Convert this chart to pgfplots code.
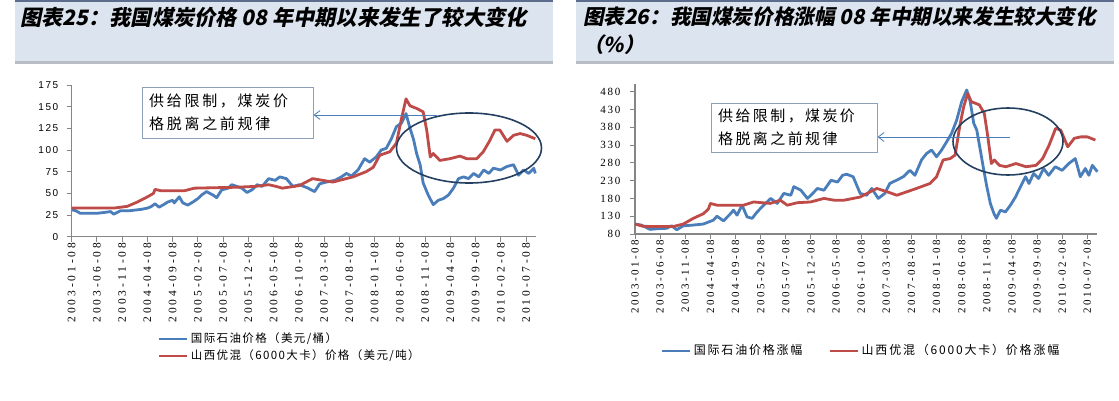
\documentclass[border=0pt]{standalone}
\usepackage{pgfplots}
\pgfplotsset{compat=1.18}
\usetikzlibrary{arrows.meta}
\usepackage{fontspec}
\setmainfont{Liberation Serif}
\newfontfamily\sansf{Liberation Sans}
\newfontfamily\cjk{Noto Sans CJK SC}
\newfontfamily\cjkt[FakeSlant=0.2]{Noto Sans CJK SC}

\definecolor{oilblue}{HTML}{4A7EBB}
\definecolor{coalred}{HTML}{BE4B48}
\definecolor{band}{HTML}{DCE4EF}
\definecolor{bandtop}{HTML}{5B6C8C}
\definecolor{shadow}{HTML}{B8BCC4}
\definecolor{axisgray}{HTML}{868686}
\definecolor{navy}{HTML}{243F60}
\definecolor{boxgray}{HTML}{8EA0B8}

\pgfplotsset{
  coalchart/.style={
    scale only axis, clip=false,
    xmin=0, xmax=92,
    axis x line*=bottom, axis y line*=left,
    axis line style={draw=axisgray, line width=1.2pt, -},
    tick style={draw=axisgray, line width=1pt},
    tick align=outside, major tick length=5pt,
    /pgf/number format/assume math mode=true,
    xtick={0,5,...,90},
    xticklabels={2003-01-08,2003-06-08,2003-11-08,2004-04-08,2004-09-08,2005-02-08,2005-07-08,2005-12-08,2006-05-08,2006-10-08,2007-03-08,2007-08-08,2008-01-08,2008-06-08,2008-11-08,2009-04-08,2009-09-08,2010-02-08,2010-07-08},
    legend image code/.code={\draw[#1, line width=2.2pt] (0pt,0pt) -- (28pt,0pt);},
  },
  oil/.style={oilblue, line width=2.8pt, line join=round},
  coal/.style={coalred, line width=2.8pt, line join=round},
}

\begin{document}
\begin{tikzpicture}[x=1pt, y=1pt]
\useasboundingbox (0,0) rectangle (1119,400);
\fill[white] (0,0) rectangle (1119,400);

% title bands
\fill[band] (15,339) rectangle (553,398.3);
\fill[bandtop] (15,398.3) rectangle (553,400);
\fill[shadow] (15,336.5) rectangle (553,339);
\fill[band] (576,339) rectangle (1114,398.3);
\fill[bandtop] (576,398.3) rectangle (1114,400);
\fill[shadow] (576,336.5) rectangle (1114,339);

\node[anchor=west, inner sep=0pt] at (20,383)
  {\cjkt\bfseries\fontsize{21.2}{24}\selectfont 图表25：我国煤炭价格 08 年中期以来发生了较大变化};
\node[anchor=west, inner sep=0pt] at (583,383)
  {\cjkt\bfseries\fontsize{20.6}{24}\selectfont 图表26：我国煤炭价格涨幅 08 年中期以来发生较大变化};
\node[anchor=west, inner sep=0pt] at (583,355)
  {\cjkt\bfseries\fontsize{20.6}{24}\selectfont （\%）};

% left chart: prices
\begin{axis}[coalchart,
  at={(71.7pt,163.3pt)}, anchor=south west,
  width=464.6pt, height=151.7pt,
  ymin=0, ymax=175, ytick={0,25,...,175},
  yticklabel style={font=\sansf\fontsize{10}{10}\selectfont\addfontfeature{LetterSpace=15}, xshift=-5pt},
  xticklabel style={rotate=90, anchor=east, inner sep=1pt,
    font=\fontsize{11.5}{11.5}\selectfont\addfontfeature{LetterSpace=25}},
  legend style={at={(0.1858,-0.620)}, anchor=north west, draw=none, fill=none,
    inner sep=0pt, row sep=0.5pt, cells={anchor=west},
    nodes={text height=9pt, text depth=2.5pt, inner sep=2.5pt},
    font=\cjk\fontsize{11.5}{13}\selectfont\addfontfeature{LetterSpace=12}},
]
\addplot[oil] coordinates {
(0,31) (0.8,30) (1.7,27) (3,27) (5,27) (6.5,28) (7.7,29) (8.3,26) (9.7,30)
(11.5,30) (13.7,31.5) (15,33) (15.7,34.6) (16.5,38) (17.3,34) (18.2,37) (19,40)
(20,42) (20.3,39) (21.3,46) (22,39) (23,36.5) (24,40) (25,44) (25.7,48) (26.7,52)
(28,48) (28.7,45) (29.7,54) (31,56) (31.7,60) (32.7,58) (33.7,56) (34.7,51)
(35.7,54) (36.7,60) (37.7,58) (39,67) (40.3,65) (41.2,69) (42.5,67) (43.8,58)
(45.1,60) (46.8,56) (48.1,52) (49.1,61) (50.4,63) (52.1,65) (53.4,69) (54.4,73)
(55.4,70) (56.7,77) (58,90) (59,86) (60.3,92) (61.3,100) (62.3,102) (63.3,113)
(64.3,127) (65.3,131) (66.2,142) (67,125) (67.7,112) (68.3,96) (69,83) (69.6,62)
(70.6,48) (71.6,37) (72.6,42) (73.6,44) (74.6,48) (75.6,56) (76.6,67) (77.6,69)
(78.6,67) (79.6,73) (80.6,69) (81.6,77) (82.6,73) (83.5,79) (84.9,77) (86.2,81)
(87.5,83) (88.5,71) (89.5,77) (90.5,73) (91.5,79) (91.8,73)
};
\addlegendentry{国际石油价格（美元/桶）}
\addplot[coal] coordinates {
(0,33) (8.3,33) (11,35) (13,40) (15,46) (16.2,50) (16.5,54.6) (17.7,53) (22.3,53)
(24.3,56) (32.3,57) (36.3,58) (39,60) (40.5,58) (41.7,56) (45.1,59) (47.7,67)
(49.7,65) (51.7,63) (55.7,69) (58.3,75) (59.7,80) (61,94) (63,98) (64.3,108)
(65.3,136) (66.2,159) (67,151) (68.3,148) (69.6,144) (70.3,123) (71,92) (71.6,96)
(72.9,88) (74.9,90) (76.9,93) (78.2,90) (80.2,90) (81.5,98) (82.8,111) (83.8,123)
(84.8,123) (86.2,110) (87.5,117) (88.8,119) (90.1,117) (91.8,113)
};
\addlegendentry{山西优混（6000大卡）价格（美元/吨）}
\end{axis}

% right chart: index
\begin{axis}[coalchart,
  at={(635pt,166pt)}, anchor=south west,
  width=462.4pt, height=150.5pt,
  ymin=80, ymax=503, ytick={80,130,...,480},
  yticklabel style={font=\fontsize{11}{11}\selectfont\addfontfeature{LetterSpace=16}, xshift=-6pt},
  xticklabel style={rotate=90, anchor=east, inner sep=1pt,
    font=\fontsize{11}{11}\selectfont\addfontfeature{LetterSpace=22}},
  legend columns=2,
  legend style={at={(0.0562,-0.777)}, anchor=west, draw=none, fill=none,
    inner sep=0pt, cells={anchor=west},
    /tikz/every even column/.append style={column sep=24pt},
    nodes={text height=9pt, text depth=2.5pt, inner sep=2.5pt},
    font=\cjk\fontsize{12}{14}\selectfont\addfontfeature{LetterSpace=15}},
]
\addplot[oil] coordinates {
(0,108) (1.3,105) (3,93) (4.5,95) (6.3,96) (7.3,103) (8.3,92) (9.6,103) (11.5,105)
(13.6,108) (15.6,119) (16.3,130) (17.6,117) (19,137) (19.6,147) (20.3,133)
(21.3,161) (22.3,128) (23.3,124) (24.3,142) (25.6,161) (27,180) (28.3,166)
(29.6,194) (31,189) (31.6,213) (33,203) (34.3,180) (35,189) (36.3,208) (37.6,203)
(39,231) (40.3,226) (41.3,245) (42.1,248) (43.4,241) (44.8,194) (46.1,189)
(47.1,208) (48.4,180) (49.7,194) (50.7,222) (52,231) (53.4,241) (54.7,259)
(55.7,245) (57,288) (58,306) (59,316) (60,297) (61,316) (62,339) (63,363) (64,400)
(65,452) (66,485) (66.7,452) (67.4,391) (68,372) (68.7,316) (69.4,259) (70,213)
(70.7,166) (71.4,138) (71.9,124) (72.7,147) (73.7,142) (74.7,161) (75.7,184)
(76.7,213) (77.7,241) (78.4,222) (79.3,250) (80.3,236) (81.3,264) (82.3,245)
(83.6,269) (85,259) (86.3,278) (87.6,292) (88.6,241) (89.6,264) (90.3,245)
(91,273) (92,255)
};
\addlegendentry{国际石油价格涨幅}
\addplot[coal] coordinates {
(0,108) (1.5,102) (3,101) (7.6,101) (9.6,108) (11.6,124) (13.6,137) (14.6,150)
(15,166) (16.3,161) (21.6,161) (23.6,170) (26.9,166) (28.9,175) (30.3,161)
(32.3,168) (34.9,170) (37.6,180) (39.6,175) (41.6,175) (44.8,184) (48.1,208)
(50.1,199) (52.1,189) (56,208) (58.7,222) (60,241) (61.3,288) (62.7,292)
(63.7,302) (64.6,382) (65.4,438) (66.2,475) (66.9,452) (68.5,443) (69.5,419)
(70.2,353) (70.9,278) (71.5,288) (72.5,273) (73.8,269) (75.8,278) (77.8,269)
(79.8,273) (81.1,292) (82.4,330) (83.7,377) (84.7,372) (86.1,325) (87.4,349)
(88.7,353) (90,353) (91.6,344)
};
\addlegendentry{山西优混（6000大卡）价格涨幅}
\end{axis}

% annotations, left
\draw[navy, line width=1.6pt] (469,252) ellipse [x radius=72.5, y radius=35];
\draw[oilblue, line width=0.8pt, -{Straight Barb[length=6pt, width=9pt]}] (437,285) -- (313.5,285);
\draw[boxgray, line width=1pt, fill=white] (142,262) rectangle (313,313);
\node[anchor=west, inner sep=0pt] at (149,299)
  {\cjk\fontsize{15}{15}\selectfont\addfontfeature{LetterSpace=18}供给限制，煤炭价};
\node[anchor=west, inner sep=0pt] at (149,276)
  {\cjk\fontsize{15}{15}\selectfont\addfontfeature{LetterSpace=18}格脱离之前规律};

% annotations, right
\draw[navy, line width=1.6pt] (1008,258.5) ellipse [x radius=55, y radius=33.5];
\draw[oilblue, line width=0.8pt, -{Straight Barb[length=6pt, width=9pt]}] (1010,263) -- (877.5,263);
\draw[boxgray, line width=1pt, fill=white] (711,248) rectangle (877,297);
\node[anchor=west, inner sep=0pt] at (718,284)
  {\cjk\fontsize{15}{15}\selectfont\addfontfeature{LetterSpace=16}供给限制，煤炭价};
\node[anchor=west, inner sep=0pt] at (718,261)
  {\cjk\fontsize{15}{15}\selectfont\addfontfeature{LetterSpace=16}格脱离之前规律};
\end{tikzpicture}
\end{document}
